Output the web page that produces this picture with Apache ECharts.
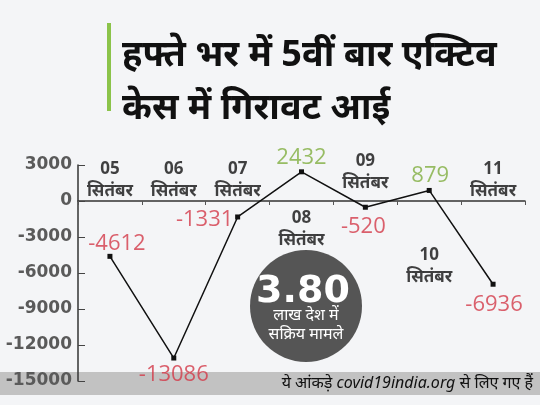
<!DOCTYPE html>
<html><head><meta charset="utf-8">
<script src="https://cdn.jsdelivr.net/npm/echarts@6/dist/echarts.min.js"></script>
<style>html,body{margin:0;padding:0;background:#f4f5f7}#c{width:540px;height:405px}</style>
</head><body><div id="c"></div>
<script>
// ---- data ----
const days = ['05', '06', '07', '08', '09', '10', '11'];
const monthWord = 'सितंबर';
const values = [-4612, -13086, -1331, 2432, -520, 879, -6936];
const yTicks = [3000, 0, -3000, -6000, -9000, -12000, -15000];
const titleText = 'हफ्ते भर में 5वीं बार एक्टिव\nकेस में गिरावट आई';
const badgeValue = '3.80';
const badgeLines = ['लाख देश में', 'सक्रिय मामले'];
const sourceText = 'ये आंकड़े covid19india.org से लिए गए हैं';

// ---- style (label offsets relative to points) ----
const valueOffsets = [[7,-13],[0,17],[-33,3],[0,-14],[-2,19],[1,-15],[1,21]];
const dateOffsets = [[0,-76],[0,-178],[0,-37],[0,57],[0,-35],[0,76],[0,-104]];
const RED = '#d33a48', GREEN = '#7fae3f';
const DEV = "'Noto Sans', 'Noto Sans Devanagari', 'Lohit Devanagari', sans-serif";

const chart = echarts.init(document.getElementById('c'), null, {renderer:'canvas'});
chart.setOption({
  backgroundColor: '#f4f5f7',
  animation: false,
  title: {
    text: titleText, left: 117, top: 24,
    textStyle: {fontFamily: DEV, fontSize: 36, fontWeight: 'bold', color: '#111', lineHeight: 53}
  },
  grid: {left: 78, right: 15, top: 165, bottom: 24},
  xAxis: {
    type: 'category', data: days, boundaryGap: true, z: 10,
    axisLine: {onZero: true, lineStyle: {color: '#333', width: 1.5}},
    axisTick: {show: true, length: 4, lineStyle: {color: '#555'}},
    axisLabel: {show: false}
  },
  yAxis: {
    type: 'value', min: -15000, max: 3000, interval: 3000, z: 10,
    splitLine: {show: false},
    axisLine: {show: true, lineStyle: {color: '#333', width: 1.5}},
    axisTick: {show: true, inside: true, length: 7, lineStyle: {color: '#444'}},
    axisLabel: {margin: 6, color: '#5a5a5a', fontSize: 17, fontWeight: 'bold', fontFamily: 'DejaVu Sans',
      formatter: v => yTicks.includes(v) ? String(v) : ''}
  },
  graphic: [
    {type: 'rect', z: 0, shape: {x: 107, y: 23, width: 4, height: 88}, style: {fill: '#8bc34a'}},
    {type: 'rect', z: 0, shape: {x: 0, y: 372, width: 540, height: 23}, style: {fill: '#c2c2c2'}},
    {type: 'text', z: 0, style: {x: 533, y: 383, text: sourceText, align: 'right', verticalAlign: 'middle',
      fill: '#111', font: "italic 16px " + DEV}},
    {type: 'circle', z: 0, shape: {cx: 306, cy: 306, r: 56}, style: {fill: '#555555'}},
    {type: 'text', z: 0, style: {x: 303, y: 292, text: badgeValue, align: 'center', verticalAlign: 'middle',
      fill: '#fff', font: "900 38px 'DejaVu Sans'"}},
    {type: 'text', z: 0, style: {x: 306, y: 325, text: badgeLines.join('\n'), align: 'center', verticalAlign: 'middle',
      fill: '#fff', font: "16px " + DEV, lineHeight: 19}}
  ],
  series: [
    {
      type: 'line', data: values, z: 10,
      lineStyle: {color: '#111', width: 1.5},
      symbol: 'rect', symbolSize: 5, itemStyle: {color: '#111'},
      label: {show: false}
    },
    {
      type: 'scatter', z: 11, symbolSize: 0, silent: true,
      data: values.map((v, i) => ({value: v, label: {offset: valueOffsets[i], color: v < 0 ? RED : GREEN}})),
      label: {show: true, position: 'inside', align: 'center', verticalAlign: 'middle',
        fontFamily: "'Open Sans'", fontSize: 22, fontWeight: 'normal', formatter: p => String(p.value)}
    },
    {
      type: 'scatter', z: 11, symbolSize: 0, silent: true,
      data: values.map((v, i) => ({value: v, label: {offset: dateOffsets[i]}})),
      label: {show: true, position: 'inside', align: 'center', verticalAlign: 'middle',
        fontFamily: DEV, fontSize: 17, fontWeight: 'bold', color: '#111', lineHeight: 22,
        formatter: p => days[p.dataIndex] + '\n' + monthWord}
    }
  ]
});
</script></body></html>
